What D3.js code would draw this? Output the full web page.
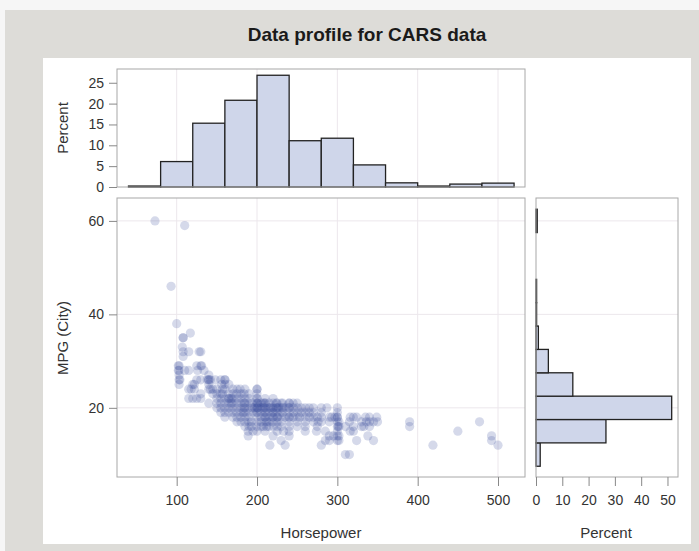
<!DOCTYPE html>
<html>
<head>
<meta charset="utf-8">
<script src="https://cdn.jsdelivr.net/npm/d3@7"></script>
<style>
  body { margin:0; padding:0; background:#f6f6f6; }
  svg { display:block; font-family:"Liberation Sans", Arial, sans-serif; }
</style>
</head>
<body>
<script>
// horsepower histogram (bin edges + percent)
var hpEdges = [40, 80, 120, 160, 200, 240, 280, 320, 360, 400, 440, 480, 520];
var hpPct = [0.23, 6.1, 15.3, 20.8, 26.8, 11.1, 11.7, 5.3, 1.0, 0.23, 0.7, 0.93];
// mpg (city) histogram
var mpgEdges = [7.5, 12.5, 17.5, 22.5, 27.5, 32.5, 37.5, 42.5, 47.5, 52.5, 57.5, 62.5];
var mpgPct = [1.6, 26.6, 51.6, 14.0, 4.7, 0.9, 0.23, 0.23, 0, 0, 0.47];

// scatter: mpg level -> horsepower values
var mpgLevels = [60, 59, 46, 38, 36, 35, 33, 32, 31, 29, 28, 27, 26, 25, 24, 23, 22, 21, 20, 19, 18, 17, 16, 15, 14, 13, 12, 10];
var hpAtLevel = [
  [73],
  [110],
  [93],
  [100],
  [117],
  [108, 108],
  [107],
  [108, 115, 128, 130],
  [108],
  [102, 103, 125, 130, 131],
  [102, 103, 110, 115, 126, 134],
  [103, 140],
  [103, 104, 125, 130, 138, 140, 140, 142, 148, 155, 160, 160],
  [103, 120, 122, 140, 156, 160, 165],
  [115, 118, 122, 140, 142, 145, 150, 157, 160, 170, 175, 179, 185, 200, 200],
  [130, 145, 150, 155, 157, 165, 170, 175, 180, 184, 190, 200],
  [115, 120, 125, 130, 150, 155, 160, 165, 165, 168, 170, 175, 180, 185, 190, 200, 200, 210, 220],
  [140, 150, 155, 160, 165, 168, 170, 175, 180, 184, 185, 190, 194, 200, 200, 201, 205, 208, 210, 210, 215, 220, 224, 225, 230, 232, 240, 240, 245, 250],
  [150, 155, 160, 165, 170, 175, 180, 184, 185, 190, 194, 197, 200, 200, 201, 205, 208, 210, 210, 215, 217, 220, 220, 224, 225, 227, 230, 232, 235, 240, 240, 245, 250, 255, 260, 265, 270, 280, 287, 300],
  [155, 160, 165, 170, 175, 180, 183, 185, 190, 195, 200, 200, 205, 210, 210, 215, 220, 220, 225, 230, 232, 240, 245, 250, 255, 260, 265, 270, 280, 300],
  [160, 170, 175, 180, 185, 190, 200, 205, 210, 210, 215, 220, 220, 225, 225, 230, 235, 240, 240, 245, 250, 253, 260, 265, 270, 275, 280, 290, 293, 297, 300, 300, 316, 320, 324, 335, 340, 349],
  [175, 180, 185, 190, 193, 200, 205, 210, 212, 215, 220, 225, 230, 240, 250, 260, 270, 276, 280, 290, 300, 302, 315, 330, 336, 340, 345, 350, 390, 477],
  [185, 190, 193, 200, 205, 208, 212, 215, 220, 225, 230, 240, 250, 260, 275, 300, 301, 302, 310, 320, 330, 333, 340, 390],
  [189, 195, 200, 210, 225, 233, 240, 260, 274, 285, 300, 316, 320, 450],
  [189, 220, 240, 290, 295, 300, 302, 338, 492],
  [230, 285, 290, 300, 302, 324, 345, 492],
  [216, 235, 280, 419, 500],
  [310, 315]
];
var hpTicks = [100, 200, 300, 400, 500];
var mpgTicks = [20, 40, 60];
var pctTicksTop = [0, 5, 10, 15, 20, 25];
var pctTicksRight = [0, 10, 20, 30, 40, 50];

var W = 699, H = 551;
var frameCol = '#a8a8a8', gridCol = '#ece7ec', barFill = '#cfd6ea', barStroke = '#222';
var dotCol = 'rgb(58,76,156)';

var svg = d3.select('body').append('svg').attr('width', W).attr('height', H);

// backgrounds
svg.append('rect').attr('x', 0).attr('y', 0).attr('width', W).attr('height', H).attr('fill', '#f6f6f6');
svg.append('rect').attr('x', 5).attr('y', 10).attr('width', W - 5).attr('height', H - 10).attr('fill', '#dddcd8');
svg.append('rect').attr('x', 43).attr('y', 58).attr('width', 648).attr('height', 486).attr('fill', '#ffffff');

svg.append('text').attr('x', 367).attr('y', 41).attr('text-anchor', 'middle')
  .style('font-size', '19px').style('font-weight', 'bold').attr('fill', '#1a1a1a')
  .text('Data profile for CARS data');

// scales
var x = d3.scaleLinear().domain([25.7, 533.6]).range([117, 525]);
var yS = d3.scaleLinear().domain([5.2, 64.9]).range([477, 198]);
var yH = d3.scaleLinear().domain([0, 28.3]).range([187, 69]);
var xP = d3.scaleLinear().domain([0, 54]).range([536, 678]);

function styleAxis(g) {
  g.select('.domain').remove();
  g.selectAll('.tick line').attr('stroke', '#888');
  g.selectAll('.tick text').attr('fill', '#333').style('font-size', '14px').style('font-family', '"Liberation Sans", Arial, sans-serif');
}

// ---- top histogram ----
var topG = svg.append('g');
topG.selectAll('.gx').data(hpTicks).enter().append('line')
  .attr('x1', function(d){return x(d);}).attr('x2', function(d){return x(d);})
  .attr('y1', 69).attr('y2', 187).attr('stroke', gridCol);
topG.selectAll('.bar').data(hpPct).enter().append('rect')
  .attr('x', function(d, i){return x(hpEdges[i]);})
  .attr('width', function(d, i){return x(hpEdges[i + 1]) - x(hpEdges[i]);})
  .attr('y', function(d){return yH(d);})
  .attr('height', function(d){return yH(0) - yH(d);})
  .attr('fill', barFill).attr('stroke', barStroke).attr('stroke-width', 1.3);
topG.append('rect').attr('x', 117).attr('y', 69).attr('width', 408).attr('height', 118)
  .attr('fill', 'none').attr('stroke', frameCol);
topG.append('g').attr('transform', 'translate(117,0)')
  .call(d3.axisLeft(yH).tickValues(pctTicksTop).tickSize(8).tickPadding(5))
  .call(styleAxis);
topG.append('text').attr('transform', 'translate(68,128) rotate(-90)').attr('text-anchor', 'middle')
  .style('font-size', '15px').attr('fill', '#333').text('Percent');

// ---- scatter ----
var sc = svg.append('g');
sc.selectAll('.gx').data(hpTicks).enter().append('line')
  .attr('x1', function(d){return x(d);}).attr('x2', function(d){return x(d);})
  .attr('y1', 198).attr('y2', 477).attr('stroke', gridCol);
sc.selectAll('.gy').data(mpgTicks).enter().append('line')
  .attr('y1', function(d){return yS(d);}).attr('y2', function(d){return yS(d);})
  .attr('x1', 117).attr('x2', 525).attr('stroke', gridCol);

var pts = [];
mpgLevels.forEach(function(m, i){
  hpAtLevel[i].forEach(function(h){ pts.push([h, m]); });
});
sc.selectAll('circle').data(pts).enter().append('circle')
  .attr('cx', function(d){return x(d[0]);})
  .attr('cy', function(d){return yS(d[1]);})
  .attr('r', 4.6)
  .attr('fill', dotCol).attr('fill-opacity', 0.21);

sc.append('rect').attr('x', 117).attr('y', 198).attr('width', 408).attr('height', 279)
  .attr('fill', 'none').attr('stroke', frameCol);
sc.append('g').attr('transform', 'translate(117,0)')
  .call(d3.axisLeft(yS).tickValues(mpgTicks).tickSize(8).tickPadding(5))
  .call(styleAxis);
sc.append('g').attr('transform', 'translate(0,477)')
  .call(d3.axisBottom(x).tickValues(hpTicks).tickSize(9).tickPadding(9))
  .call(styleAxis);
sc.append('text').attr('transform', 'translate(68,338) rotate(-90)').attr('text-anchor', 'middle')
  .style('font-size', '15px').attr('fill', '#333').text('MPG (City)');
sc.append('text').attr('x', 321).attr('y', 538).attr('text-anchor', 'middle')
  .style('font-size', '15px').attr('fill', '#333').text('Horsepower');

// ---- right histogram ----
var rh = svg.append('g');
rh.selectAll('.gy').data(mpgTicks).enter().append('line')
  .attr('y1', function(d){return yS(d);}).attr('y2', function(d){return yS(d);})
  .attr('x1', 536).attr('x2', 678).attr('stroke', gridCol);
rh.selectAll('.bar').data(mpgPct.map(function(v, i){return {v: v, i: i};}).filter(function(d){return d.v > 0;}))
  .enter().append('rect')
  .attr('x', xP(0))
  .attr('y', function(d){return yS(mpgEdges[d.i + 1]);})
  .attr('height', function(d){return yS(mpgEdges[d.i]) - yS(mpgEdges[d.i + 1]);})
  .attr('width', function(d){return xP(d.v) - xP(0);})
  .attr('fill', barFill).attr('stroke', barStroke).attr('stroke-width', 1.3);
rh.append('rect').attr('x', 536).attr('y', 198).attr('width', 142).attr('height', 279)
  .attr('fill', 'none').attr('stroke', frameCol);
rh.append('g').attr('transform', 'translate(0,477)')
  .call(d3.axisBottom(xP).tickValues(pctTicksRight).tickSize(9).tickPadding(9))
  .call(styleAxis);
rh.append('text').attr('x', 606).attr('y', 538).attr('text-anchor', 'middle')
  .style('font-size', '15px').attr('fill', '#333').text('Percent');
</script>
</body>
</html>
